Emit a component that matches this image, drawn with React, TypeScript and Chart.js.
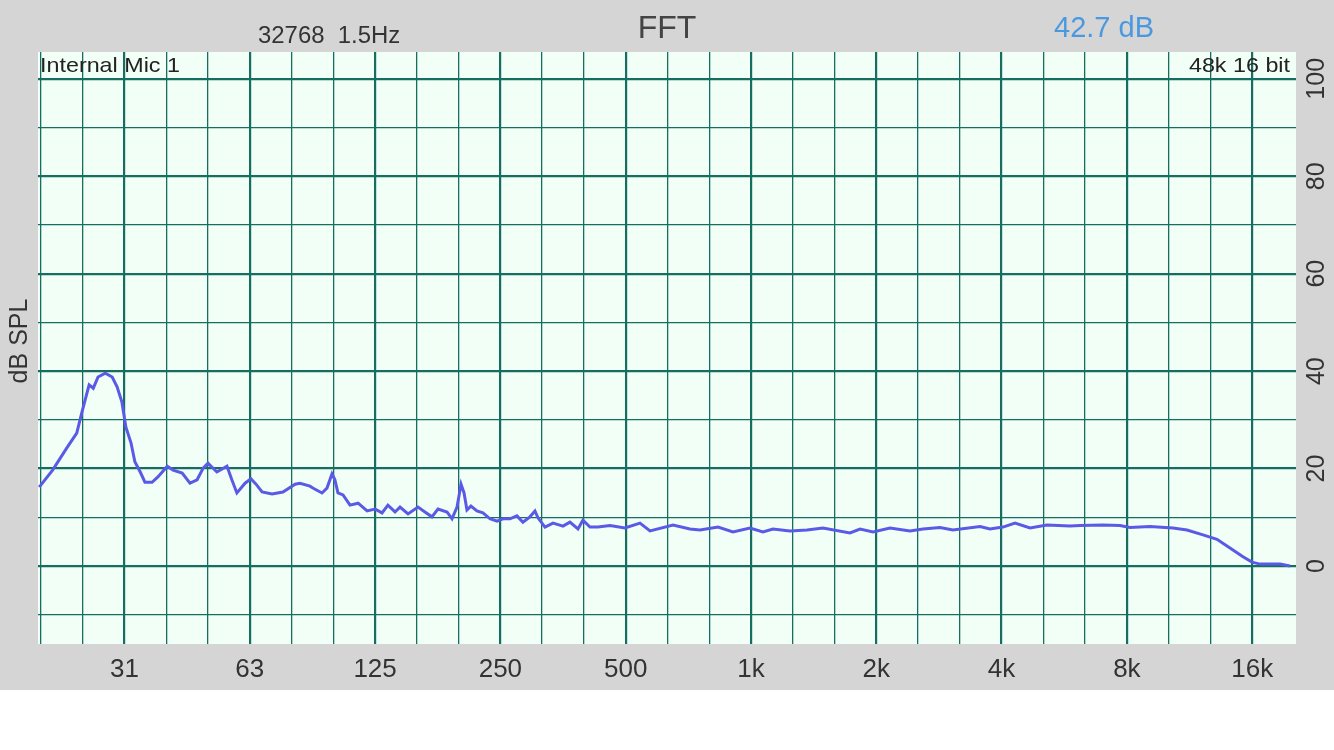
import React, { useEffect, useRef } from 'react';
import { Chart, registerables } from 'chart.js';

Chart.register(...registerables);

// Spectrum (frequency in Hz, level in dB SPL)
const FREQS = [
  19.5, 21.0, 22.7, 24.0, 24.7, 25.7, 26.3, 27.0, 28.1, 29.2, 30.0, 30.8, 31.5, 32.4, 33.1, 34.1, 35.0, 36.4, 37.6,
  39.6, 40.9, 43.0, 44.9, 46.7, 48.3, 49.6, 52.1, 55.1, 56.6, 58.2, 60.9, 62.9, 64.7, 66.9, 70.7, 75.1, 80.3, 82.5,
  87.2, 88.6, 93.2, 95.8, 98.5, 100.1, 101.8, 104.7, 108.8, 113.8, 119.6, 125.0, 129.9, 134.2, 139.6, 143.5, 150.0,
  158.5, 164.7, 171.2, 177.0, 186.1, 191.3, 196.7, 201.1, 204.5, 207.8, 212.4, 219.6, 227.0, 236.0, 245.4, 253.7,
  263.7, 274.0, 283.2, 294.4, 302.7, 307.8, 320.0, 334.5, 353.6, 367.3, 384.0, 394.7, 410.4, 428.9, 458.5, 497.9,
  541.2, 572.0, 649.6, 713.5, 754.2, 833.4, 905.2, 994.5, 1068.7, 1129, 1241, 1363, 1489, 1729, 1828, 1964, 2158,
  2410, 2590, 2845, 3057, 3550, 3751, 4031, 4308, 4681, 5142, 5840, 6172, 7010, 7701, 8139, 9089, 10324, 11154,
  12188, 13168, 14150, 15207, 15982, 16706, 18661, 19720,
];
const LEVELS = [
  16.2, 19.7, 24.2, 27.3, 31.6, 37.2, 36.5, 38.8, 39.6, 38.8, 36.8, 33.7, 28.5, 25.3, 21.4, 19.3, 17.2, 17.2, 18.3,
  20.5, 19.7, 19.1, 17.0, 17.7, 20.1, 21.1, 19.3, 20.5, 17.7, 15.0, 17.0, 17.9, 16.8, 15.2, 14.8, 15.2, 16.8, 17.0,
  16.4, 16.0, 15.0, 16.0, 18.9, 17.7, 15.0, 14.6, 12.5, 12.9, 11.3, 11.7, 10.9, 12.5, 11.1, 12.1, 10.7,
  12.1, 11.1, 10.1, 11.7, 11.1, 9.7, 12.1, 16.8, 15.0, 11.5, 12.3, 11.3, 10.9, 9.7, 9.2, 9.7,
  9.7, 10.3, 9.0, 10.1, 11.3, 9.9, 8.0, 8.8, 8.2, 9.0, 7.6, 9.4, 8.0, 8.0, 8.3, 7.8,
  8.8, 7.2, 8.4, 7.6, 7.4, 8.0, 7.0, 7.8, 7.0, 7.6, 7.2, 7.4, 7.8, 6.8, 7.6, 7.0, 7.8,
  7.2, 7.6, 7.9, 7.4, 8.1, 7.6, 8.0, 8.8, 7.8, 8.4, 8.2, 8.3, 8.4, 8.3, 7.9, 8.1, 7.8, 7.4,
  6.4, 5.5, 3.7, 1.9, 0.8, 0.4, 0.4, 0.0,
];

// Third-octave grid lines (Hz) and labelled octave ticks
const GRID_FREQS = [
  19.686, 24.803, 31.25, 39.373, 49.606, 62.5, 78.745, 99.213, 125, 157.49, 198.43, 250, 314.98, 396.85, 500,
  629.96, 793.7, 1000, 1259.92, 1587.4, 2000, 2519.84, 3174.8, 4000, 5039.68, 6349.6, 8000, 10079.37, 12699.21, 16000,
];
const OCTAVE_FREQS = [31.25, 62.5, 125, 250, 500, 1000, 2000, 4000, 8000, 16000];
const OCTAVE_LABELS = ['31', '63', '125', '250', '500', '1k', '2k', '4k', '8k', '16k'];
const DB_GRID = [-10, 0, 10, 20, 30, 40, 50, 60, 70, 80, 90, 100];
const DB_LABELS = [0, 20, 40, 60, 80, 100];

const HEADER_LEFT = '32768  1.5Hz';
const HEADER_TITLE = 'FFT';
const HEADER_LEVEL = '42.7 dB';
const INPUT_NAME = 'Internal Mic 1';
const FORMAT_NAME = '48k 16 bit';
const Y_TITLE = 'dB SPL';

const FONT = '"Liberation Sans", Arial, Helvetica, sans-serif';
const GRID = '#166e60';
const GRAY = '#d5d5d5';
const MINT = '#f1fff7';
const TEXT = '#333333';

const isOctave = (v: number) => OCTAVE_FREQS.some((f) => Math.abs(f - v) / f < 0.001);

const decor = {
  id: 'decor',
  beforeDraw(chart: any) {
    const { ctx, chartArea: a } = chart;
    ctx.save();
    ctx.fillStyle = GRAY;
    ctx.fillRect(0, 0, chart.width, 690);
    ctx.fillStyle = MINT;
    ctx.fillRect(a.left, a.top, a.right - a.left, a.bottom - a.top);
    ctx.restore();
  },
  afterDraw(chart: any) {
    const { ctx } = chart;
    const xs = chart.scales.x;
    const ys = chart.scales.y;
    ctx.save();
    ctx.fillStyle = TEXT;
    ctx.textBaseline = 'alphabetic';

    // header
    ctx.save();
    ctx.translate(258, 43);
    ctx.scale(1.04, 1);
    ctx.textAlign = 'left';
    ctx.font = `23px ${FONT}`;
    ctx.fillText(HEADER_LEFT, 0, 0);
    ctx.restore();
    ctx.textAlign = 'center';
    ctx.font = `32px ${FONT}`;
    ctx.fillStyle = '#444444';
    ctx.fillText(HEADER_TITLE, 667, 38);
    ctx.fillStyle = '#4a98e0';
    ctx.font = `29px ${FONT}`;
    ctx.fillText(HEADER_LEVEL, 1104, 37);

    // in-plot labels (slightly wide lettering)
    ctx.fillStyle = '#222222';
    ctx.font = `21px ${FONT}`;
    ctx.save();
    ctx.translate(40, 72);
    ctx.scale(1.11, 1);
    ctx.textAlign = 'left';
    ctx.fillText(INPUT_NAME, 0, 0);
    ctx.restore();
    ctx.save();
    ctx.translate(1290, 72);
    ctx.scale(1.11, 1);
    ctx.textAlign = 'right';
    ctx.fillText(FORMAT_NAME, 0, 0);
    ctx.restore();

    // x tick labels
    ctx.fillStyle = TEXT;
    ctx.font = `26px ${FONT}`;
    ctx.textAlign = 'center';
    OCTAVE_FREQS.forEach((f, i) => {
      ctx.fillText(OCTAVE_LABELS[i], xs.getPixelForValue(f), 677);
    });

    // right y labels (rotated)
    ctx.font = `25px ${FONT}`;
    DB_LABELS.forEach((v) => {
      ctx.save();
      ctx.translate(1324, ys.getPixelForValue(v));
      ctx.rotate(-Math.PI / 2);
      ctx.textAlign = 'center';
      ctx.fillText(String(v), 0, 0);
      ctx.restore();
    });

    // y title
    ctx.save();
    ctx.translate(27, 341);
    ctx.rotate(-Math.PI / 2);
    ctx.textAlign = 'center';
    ctx.fillText(Y_TITLE, 0, 0);
    ctx.restore();

    ctx.restore();
  },
};

export default function App() {
  const ref = useRef<HTMLCanvasElement>(null);
  useEffect(() => {
    const canvas = ref.current;
    if (!canvas) return;
    const chart = new Chart(canvas, {
      type: 'line',
      data: {
        datasets: [
          {
            data: FREQS.map((f, i) => ({ x: f, y: LEVELS[i] })),
            borderColor: '#5a5ae6',
            borderWidth: 3,
            pointRadius: 0,
            tension: 0,
            fill: false,
          },
        ],
      },
      options: {
        responsive: false,
        animation: false,
        devicePixelRatio: 1,
        layout: { autoPadding: false, padding: { left: 38, top: 52, right: 38, bottom: 106 } },
        plugins: { legend: { display: false }, tooltip: { enabled: false }, title: { display: false } },
        events: [],
        scales: {
          x: {
            type: 'logarithmic',
            min: 19.37,
            max: 20387,
            border: { display: false },
            ticks: { display: false },
            afterBuildTicks: (axis: any) => {
              axis.ticks = GRID_FREQS.map((v) => ({ value: v }));
            },
            grid: {
              drawTicks: false,
              color: GRID,
              lineWidth: (c: any) => (c.tick && isOctave(c.tick.value) ? 2.2 : 1.3),
            },
          },
          y: {
            type: 'linear',
            min: -16,
            max: 105.5,
            border: { display: false },
            ticks: { display: false },
            afterBuildTicks: (axis: any) => {
              axis.ticks = DB_GRID.map((v) => ({ value: v }));
            },
            grid: {
              drawTicks: false,
              color: GRID,
              lineWidth: (c: any) => (c.tick && c.tick.value % 20 === 0 ? 2.2 : 1.3),
            },
          },
        },
      },
      plugins: [decor],
    } as any);
    return () => chart.destroy();
  }, []);
  return (
    <div style={{ position: 'absolute', left: 0, top: 0, width: 1334, height: 750 }}>
      <canvas ref={ref} width={1334} height={750} />
    </div>
  );
}
